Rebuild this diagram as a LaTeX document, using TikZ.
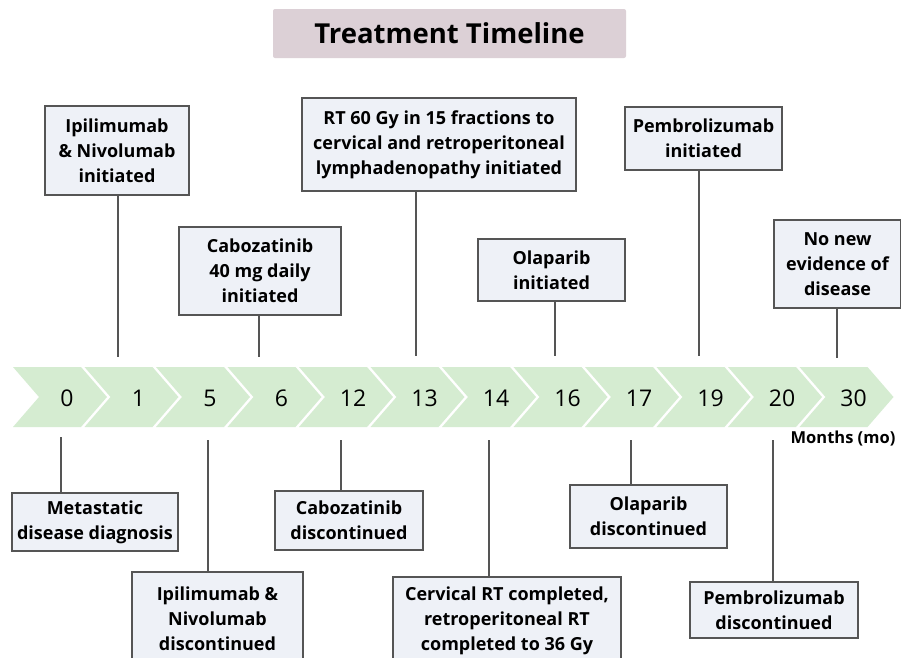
\documentclass[tikz,border=0pt]{standalone}
\usepackage{fontspec}
\setmainfont{Open Sans}
\usepackage{tikz}
\usetikzlibrary{
	arrows.meta,
	calc,
	positioning
}
\definecolor{chevgreen}{HTML}{D5ECD1}
\definecolor{boxfill}{HTML}{EEF1F7}
\definecolor{boxline}{HTML}{555555}
\definecolor{titlefill}{HTML}{DCD0D6}

\begin{document}
\begin{tikzpicture}[
			x=1pt,y=-1pt,
			box/.style={
				rectangle,
				draw=boxline,
				fill=boxfill,
				line width=1.2pt,
				inner sep=0pt,
				align=center,
				font=\fontsize{18}{25}\selectfont\bfseries
			},
			heading/.style={
				rectangle,
				fill=titlefill,
				rounded corners=2pt,
				font=\fontsize{27.5}{30}\selectfont\bfseries
			},
			chev/.style={
				fill=chevgreen,
				draw=none
			},
			link/.style={
				draw=boxline,
				line width=1.2pt
			}
			]
			
			\clip (0,0) rectangle (901,657);
			\fill[white] (0,0) rectangle (901,657);
			
			% title
			\node[heading, minimum width=353pt, minimum height=49pt] (title) at (449.5,33.5) {Treatment Timeline};
			
			% the months band
			\foreach \lbl [count=\i from 0] in {0,1,5,6,12,13,14,16,17,19,20,30} {
				\pgfmathsetmacro{\xa}{13+71.5*\i}
				\fill[chev] (\xa,367) -- ++(68,0) -- ++(26,30) -- ++(-26,30) -- ++(-68,0) -- ++(26,-30) -- cycle;
				\node[font=\fontsize{23}{26}\selectfont] (m\i) at (\xa+54,398) {\lbl};
			}
			\node[font=\fontsize{16.5}{18}\selectfont\bfseries] (unit) at (843,439) {Months (mo)};
			
			% ends of the connectors on the band
			\coordinate (a1) at (118,357);
			\coordinate (a2) at (259,357);
			\coordinate (a3) at (416,356);
			\coordinate (a4) at (555,356);
			\coordinate (a5) at (699,356);
			\coordinate (a6) at (837,358);
			\coordinate (b1) at (61,437);
			\coordinate (b2) at (208,440);
			\coordinate (b3) at (341,440);
			\coordinate (b4) at (489,440);
			\coordinate (b5) at (631,440);
			\coordinate (b6) at (773,440);
			
			% events above
			\node[box, minimum width=144pt, minimum height=89pt] (ipiStart) at (117,150.5) {Ipilimumab\\ \& Nivolumab\\ initiated};
			\node[box, minimum width=162pt, minimum height=88pt] (caboStart) at (260,271) {Cabozatinib\\ 40 mg daily\\ initiated};
			\node[box, minimum width=274pt, minimum height=93pt] (rtStart) at (439,144.5) {RT 60 Gy in 15 fractions to\\ cervical and retroperitoneal\\ lymphadenopathy initiated};
			\node[box, minimum width=147pt, minimum height=62pt] (olaStart) at (551.5,270) {Olaparib\\ initiated};
			\node[box, minimum width=157pt, minimum height=63pt] (pemStart) at (703.5,138.5) {Pembrolizumab\\ initiated};
			\node[box, minimum width=127pt, minimum height=88pt] (noDisease) at (837.5,264) {No new\\ evidence of\\ disease};
			
			% events below
			\node[box, minimum width=166pt, minimum height=58pt] (diagnosis) at (95,522) {Metastatic\\ disease diagnosis};
			\node[box, minimum width=171pt, minimum height=93pt] (ipiStop) at (217.5,618.5) {Ipilimumab \&\\ Nivolumab\\ discontinued};
			\node[box, minimum width=148pt, minimum height=59pt] (caboStop) at (349,520.5) {Cabozatinib\\ discontinued};
			\node[box, minimum width=228pt, minimum height=88pt] (rtStop) at (507,621) {Cervical RT completed,\\ retroperitoneal RT\\ completed to 36 Gy};
			\node[box, minimum width=157pt, minimum height=63pt] (olaStop) at (648.5,516.5) {Olaparib\\ discontinued};
			\node[box, minimum width=168pt, minimum height=56pt] (pemStop) at (774,610) {Pembrolizumab\\ discontinued};
			
			\draw[link] (ipiStart.south -| a1) -- (a1);
			\draw[link] (caboStart.south -| a2) -- (a2);
			\draw[link] (rtStart.south -| a3) -- (a3);
			\draw[link] (olaStart.south -| a4) -- (a4);
			\draw[link] (pemStart.south -| a5) -- (a5);
			\draw[link] (noDisease.south -| a6) -- (a6);
			\draw[link] (b1) -- (diagnosis.north -| b1);
			\draw[link] (b2) -- (ipiStop.north -| b2);
			\draw[link] (b3) -- (caboStop.north -| b3);
			\draw[link] (b4) -- (rtStop.north -| b4);
			\draw[link] (b5) -- (olaStop.north -| b5);
			\draw[link] (b6) -- (pemStop.north -| b6);
			
		\end{tikzpicture}
\end{document}
